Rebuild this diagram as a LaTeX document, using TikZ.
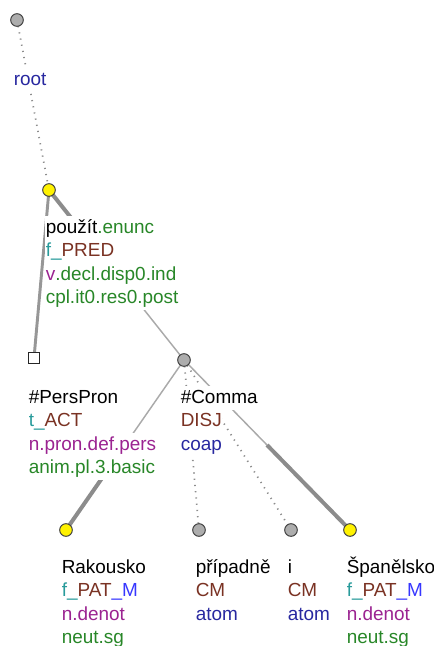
\documentclass[tikz,border=0pt]{standalone}
\usepackage{fontspec}
\setmainfont{Liberation Sans}
\usetikzlibrary{calc}
\pgfdeclarelayer{background}
\pgfsetlayers{background,main}
\definecolor{cteal}{RGB}{40,155,155}
\definecolor{cbrown}{RGB}{122,50,35}
\definecolor{cpurple}{RGB}{155,35,145}
\definecolor{cgreen}{RGB}{40,135,40}
\definecolor{cnavy}{RGB}{40,40,160}
\definecolor{cblue}{RGB}{55,55,255}
\definecolor{cedge}{RGB}{140,140,140}
\definecolor{cthin}{RGB}{170,170,170}
\tikzset{
  gnode/.style={circle,draw=black!75,line width=0.75pt,fill=black!32,minimum size=9.5pt,inner sep=0pt},
  ynode/.style={circle,draw=black!75,line width=0.75pt,fill=yellow,minimum size=9.5pt,inner sep=0pt},
  snode/.style={rectangle,draw=black!85,line width=0.75pt,fill=white,minimum size=8pt,inner sep=0pt},
  lbl/.style={anchor=base west,fill=white,inner xsep=0.4pt,inner ysep=0pt,text height=12.6pt,text depth=5pt,font=\fontsize{14.2}{17}\selectfont},
  thickedge/.style={draw=cedge,line width=3pt},
  midedge/.style={draw=cedge!90,line width=2.2pt},
  thinedge/.style={draw=cthin,line width=1.1pt},
  dotedge/.style={draw=cedge,line width=1.3pt,dash pattern=on 0.9pt off 3.8pt}
}
\begin{document}
\begin{tikzpicture}[x=0.75pt,y=-0.75pt]
\useasboundingbox (0,0) rectangle (434,646);
% tree nodes
\node[gnode] (root) at (17,20) {};
\node[ynode] (pred) at (49,190) {};
\node[snode] (pers) at (34,358) {};
\node[gnode] (comma) at (184,360) {};
\node[ynode] (rak) at (66,530) {};
\node[gnode] (prip) at (199,530) {};
\node[gnode] (ii) at (291,530) {};
\node[ynode] (spa) at (350,530) {};
% edges
\begin{pgfonlayer}{background}
\draw[dotedge] (root.center) -- (pred.center);
\draw[midedge] (pred.center) -- (pers.center);
\draw[thickedge] (pred.center) -- ($(pred.center)!.5!(comma.center)$);
\draw[thinedge] ($(pred.center)!.5!(comma.center)$) -- (comma.center);
\draw[thinedge] (comma.center) -- ($(comma.center)!.5!(rak.center)$);
\draw[thickedge] ($(comma.center)!.5!(rak.center)$) -- (rak.center);
\draw[dotedge] (comma.center) -- (prip.center);
\draw[dotedge] (comma.center) -- (ii.center);
\draw[thinedge] (comma.center) -- ($(comma.center)!.5!(spa.center)$);
\draw[thickedge] ($(comma.center)!.5!(spa.center)$) -- (spa.center);
\end{pgfonlayer}
% labels
\node[lbl,text=cnavy] (rootl) at (13,85) {root};
\node[lbl] (pred1) at (45,233) {použít\textcolor{cgreen}{.enunc}};
\node[lbl] (pred2) at (45,256.5) {\textcolor{cteal}{f\_}\textcolor{cbrown}{PRED}};
\node[lbl] (pred3) at (45,280) {\textcolor{cpurple}{v}\textcolor{cgreen}{.decl.disp0.ind}};
\node[lbl,text=cgreen] (pred4) at (45,303.5) {cpl.it0.res0.post};
\node[lbl] (pers1) at (28,403) {\#PersPron};
\node[lbl] (pers2) at (28,426.5) {\textcolor{cteal}{t\_}\textcolor{cbrown}{ACT}};
\node[lbl,text=cpurple] (pers3) at (28,450) {n.pron.def.pers};
\node[lbl,text=cgreen] (pers4) at (28,473.5) {anim.pl.3.basic};
\node[lbl] (comma1) at (180,403) {\#Comma};
\node[lbl,text=cbrown] (comma2) at (180,426.5) {DISJ};
\node[lbl,text=cnavy] (comma3) at (180,450) {coap};
\node[lbl] (rak1) at (61,573) {Rakousko};
\node[lbl] (rak2) at (61,596.5) {\textcolor{cteal}{f\_}\textcolor{cbrown}{PAT}\textcolor{cblue}{\_M}};
\node[lbl,text=cpurple] (rak3) at (61,620) {n.denot};
\node[lbl,text=cgreen] (rak4) at (61,643.5) {neut.sg};
\node[lbl] (prip1) at (195,573) {případně};
\node[lbl,text=cbrown] (prip2) at (195,596.5) {CM};
\node[lbl,text=cnavy] (prip3) at (195,620) {atom};
\node[lbl] (ii1) at (287,573) {i};
\node[lbl,text=cbrown] (ii2) at (287,596.5) {CM};
\node[lbl,text=cnavy] (ii3) at (287,620) {atom};
\node[lbl] (spa1) at (346,573) {Španělsko};
\node[lbl] (spa2) at (346,596.5) {\textcolor{cteal}{f\_}\textcolor{cbrown}{PAT}\textcolor{cblue}{\_M}};
\node[lbl,text=cpurple] (spa3) at (346,620) {n.denot};
\node[lbl,text=cgreen] (spa4) at (346,643.5) {neut.sg};
\end{tikzpicture}
\end{document}
